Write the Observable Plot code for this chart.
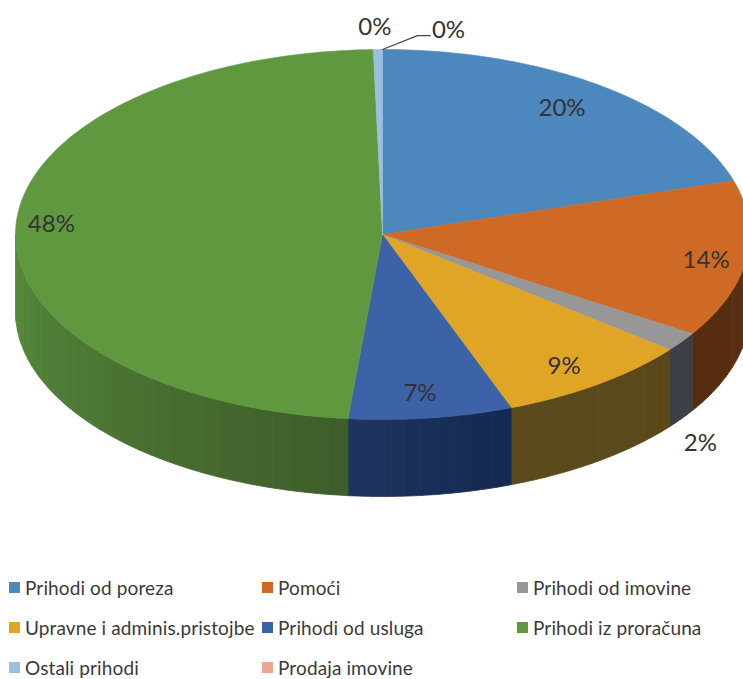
<!DOCTYPE html>
<html>
<head>
<meta charset="utf-8">
<script src="https://cdn.jsdelivr.net/npm/d3@7"></script>
<script src="https://cdn.jsdelivr.net/npm/@observablehq/plot@0.6"></script>
<style>
  html,body{margin:0;padding:0;background:#fff;overflow:hidden}
  svg{display:block}
  #legend{display:grid;grid-template-columns:253px 255px 1fr;grid-auto-rows:23px;row-gap:17px;padding-left:9px;
    font:19px Lato,sans-serif;letter-spacing:.12px;color:#3a3a3a;white-space:nowrap}
  #legend div{display:flex;align-items:center}
  #legend i{display:inline-block;width:11px;height:11px;margin-right:5px;flex:none}
</style>
</head>
<body>
<div id="chart"></div>
<div id="legend"></div>
<script>
const categories = ["Prihodi od poreza","Pomoći","Prihodi od imovine","Upravne i adminis.pristojbe","Prihodi od usluga","Prihodi iz proračuna","Ostali prihodi","Prodaja imovine"];
const values = [20.3,13.7,1.7,8.6,7.2,48.1,0.4,0];
const topColors = ["#4c87bd","#cf6a26","#979797","#e0a526","#3c62a8","#5f983e","#9ac0e0","#f0a58f"];
const sideRight = ["#2a4c6c","#5c3012","#3d3f46","#5a4819","#13294f","#3e5c2a","#56708a","#8a5c50"];
const sideLeft  = ["#2a4c6c","#552c10","#3d3f46","#5a4a1c","#1e3560","#578c3c","#56708a","#8a5c50"];

// Layout of the tilted disc, in units of the ellipse's radii
const depth = 0.416;
const insideRadius = [0.84,0.89,0,0.87,0.86,0.9,0,0];
// Pixel nudges of the percentage labels, one per slice
const labelNudge = [[-4,-1],[0,4],[19,101],[-6,2],[-4,1],[-1,-4],[-3,-22],[66,-19]];

const total = d3.sum(values);
const ends = d3.cumsum(values).map(v => v / total * 360);
const starts = ends.map((e, i) => (i ? ends[i - 1] : 0));
const rad = d => d * Math.PI / 180;
const rim = (deg, drop = 0) => ({x: Math.sin(rad(deg)), y: Math.cos(rad(deg)) - drop});
const label = i => Math.round(values[i]) + "%";

const topPts = [];
categories.forEach((c, i) => {
  if (ends[i] - starts[i] <= 0) return;
  const fill = topColors[i];
  topPts.push({x: 0, y: 0, z: c, fill});
  for (let a = starts[i]; ; a += 1) {
    const d = Math.min(a, ends[i]);
    topPts.push({...rim(d), z: c, fill});
    if (d === ends[i]) break;
  }
  topPts.push({x: 0, y: 0, z: c, fill});
});

const sidePts = [];
categories.forEach((c, i) => {
  const a0 = Math.max(starts[i], 90), a1 = Math.min(ends[i], 270);
  if (a1 <= a0) return;
  const mix = d3.interpolateRgb(sideRight[i], sideLeft[i]);
  const n = Math.max(1, Math.round((a1 - a0) / 3));
  for (let k = 0; k < n; k++) {
    const p = a0 + (a1 - a0) * k / n, q = a0 + (a1 - a0) * (k + 1) / n;
    const fill = d3.color(mix((k + 0.5) / n)).formatHex();
    const z = c + k;
    const steps = d3.range(p, q, 0.5).concat([q]);
    steps.forEach(d => sidePts.push({...rim(d), z, fill}));
    steps.slice().reverse().forEach(d => sidePts.push({...rim(d, depth), z, fill}));
    sidePts.push({...rim(p), z, fill});
  }
});

const textOpts = {fontFamily: "Lato, sans-serif", fontSize: 24, fill: "#333"};
const labelMarks = categories.map((c, i) => {
  const m = (starts[i] + ends[i]) / 2;
  const r = insideRadius[i] || 1;
  const at = {x: r * Math.sin(rad(m)), y: r * Math.cos(rad(m))};
  return Plot.text([at], {x: "x", y: "y", text: () => label(i), dx: labelNudge[i][0], dy: labelNudge[i][1], ...textOpts});
});

const apex = rim(360);
const leader = [apex, {x: apex.x + 0.095, y: apex.y + 0.075}, {x: apex.x + 0.13, y: apex.y + 0.075}];

const chart = Plot.plot({
  width: 743, height: 576,
  margin: 0,
  x: {domain: [-1, 1], range: [15, 749], axis: null},
  y: {domain: [-1, 1], range: [419, 49], axis: null},
  color: {type: "identity"},
  marks: [
    Plot.line(sidePts, {x: "x", y: "y", z: "z", fill: "fill", stroke: "fill", strokeWidth: 0.8, curve: "linear"}),
    Plot.line(topPts, {x: "x", y: "y", z: "z", fill: "fill", stroke: "fill", strokeWidth: 0.6, curve: "linear"}),
    Plot.line(leader, {x: "x", y: "y", stroke: "#444", strokeWidth: 1.2}),
    ...labelMarks
  ]
});
document.getElementById("chart").append(chart);

const legend = document.getElementById("legend");
categories.forEach((c, i) => {
  const row = document.createElement("div");
  const sw = document.createElement("i");
  sw.style.background = topColors[i];
  row.append(sw, document.createTextNode(c));
  legend.append(row);
});
</script>
</body>
</html>
